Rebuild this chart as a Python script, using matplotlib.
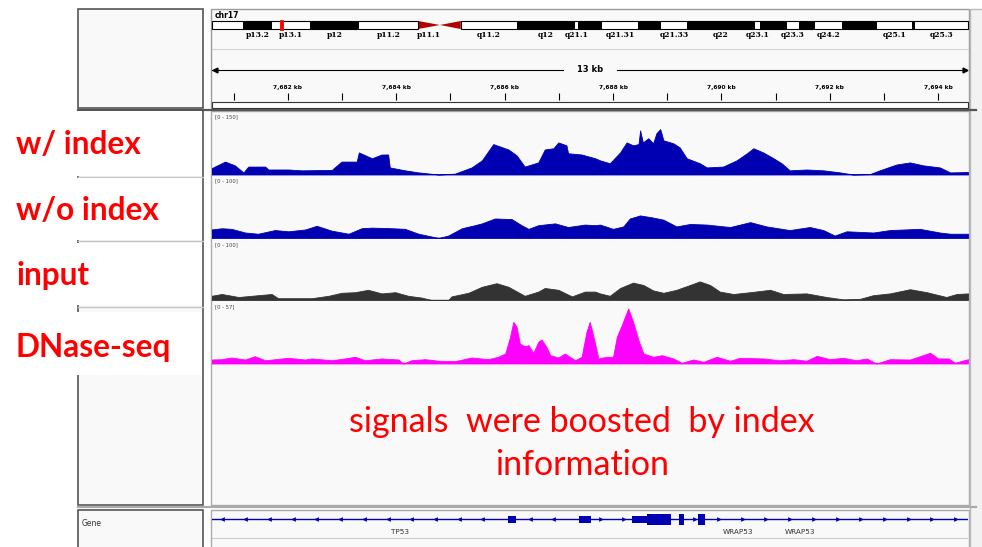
"""IGV-style browser snapshot around TP53 / WRAP53 with four coverage tracks."""
import matplotlib
matplotlib.use("Agg")
import matplotlib.pyplot as plt
from matplotlib.patches import Rectangle, Polygon
import numpy as np

# ---- data -------------------------------------------------------------
CHROM = 'chr17'
CHR_LEN = 83.26          # Mb
REGION = (7680.60, 7694.55)   # kb shown in the data panel

# cytobands (Mb)
band_names = ['p13.3', 'p13.2', 'p13.1', 'p12', 'p11.2', 'p11.1', 'q11.1', 'q11.2',
              'q12', 'q21.1', 'q21.2', 'q21.31', 'q21.32', 'q21.33', 'q22', 'q23.1',
              'q23.2', 'q23.3', 'q24.1', 'q24.2', 'q24.3', 'q25.1', 'q25.2', 'q25.3']
band_start = [0.0, 3.4, 6.6, 10.8, 16.2, 22.7, 25.1, 27.4, 33.6, 40.0, 40.3, 43.0,
              46.9, 49.5, 52.3, 59.8, 60.3, 63.3, 64.7, 66.4, 69.4, 73.2, 77.1, 77.4]
band_end = band_start[1:] + [CHR_LEN]
band_stain = ['gneg', 'gpos', 'gneg', 'gpos', 'gneg', 'acen', 'acen', 'gneg',
              'gpos', 'gneg', 'gpos', 'gneg', 'gpos', 'gneg', 'gpos', 'gneg',
              'gpos', 'gneg', 'gpos', 'gneg', 'gpos', 'gneg', 'gpos', 'gneg']
band_shown = ['p13.2', 'p13.1', 'p12', 'p11.2', 'p11.1', 'q11.2', 'q12', 'q21.1',
              'q21.31', 'q21.33', 'q22', 'q23.1', 'q23.3', 'q24.2', 'q25.1', 'q25.3']

# track 1: w/ index  (range 0-150)
t1_pos = [7680.59, 7680.84, 7681.02, 7681.18, 7681.27, 7681.58, 7681.64, 7682.01, 7682.25,
          7682.81, 7682.99, 7683.27, 7683.31, 7683.55, 7683.73, 7683.85, 7683.88, 7684.16,
          7684.41, 7684.78, 7685.08, 7685.39, 7685.58, 7685.79, 7686.07, 7686.22, 7686.37,
          7686.62, 7686.74, 7686.90, 7686.99, 7687.14, 7687.17, 7687.42, 7687.67, 7687.76,
          7687.94, 7688.13, 7688.25, 7688.37, 7688.47, 7688.50, 7688.55, 7688.65, 7688.74,
          7688.80, 7688.87, 7688.93, 7689.11, 7689.23, 7689.36, 7689.60, 7689.73, 7690.03,
          7690.28, 7690.47, 7690.59, 7690.77, 7690.96, 7691.11, 7691.26, 7691.57, 7691.88,
          7692.19, 7692.43, 7692.74, 7692.92, 7693.23, 7693.48, 7693.72, 7694.03, 7694.22,
          7694.55]
t1_val = [15, 31, 22, 5, 19, 19, 12, 12, 10,
          11, 31, 31, 53, 39, 48, 48, 17, 10,
          5, 0, 2, 17, 34, 73, 60, 46, 19,
          29, 60, 63, 77, 70, 51, 48, 39, 34,
          27, 53, 77, 70, 73, 106, 77, 87, 75,
          99, 109, 82, 75, 65, 39, 27, 17, 19,
          34, 51, 63, 53, 39, 27, 10, 12, 10,
          5, 0, 1, 10, 24, 29, 22, 17, 5,
          6]

# track 2: w/o index (range 0-100)
t2_pos = [7680.59, 7680.78, 7680.96, 7681.21, 7681.45, 7681.76, 7682.01, 7682.32, 7682.53,
          7682.81, 7683.12, 7683.36, 7683.55, 7683.92, 7684.16, 7684.41, 7684.78, 7684.96,
          7685.21, 7685.45, 7685.58, 7685.82, 7686.13, 7686.31, 7686.44, 7686.62, 7686.93,
          7687.17, 7687.48, 7687.67, 7687.76, 7688.00, 7688.19, 7688.31, 7688.50, 7688.71,
          7688.93, 7689.17, 7689.42, 7689.73, 7690.16, 7690.53, 7690.83, 7691.26, 7691.63,
          7691.88, 7692.09, 7692.31, 7692.80, 7693.11, 7693.66, 7694.03, 7694.22, 7694.55]
t2_val = [14, 16, 15, 9, 7, 13, 11, 14, 20,
          12, 7, 16, 17, 16, 15, 7, 0, 4,
          16, 21, 24, 32, 31, 21, 15, 21, 24,
          18, 22, 21, 22, 15, 19, 32, 37, 34,
          30, 19, 23, 22, 18, 26, 19, 13, 18,
          13, 4, 11, 9, 13, 15, 9, 7, 7]

# track 3: input (range 0-100)
t3_pos = [7680.59, 7680.78, 7681.09, 7681.33, 7681.70, 7681.82, 7682.13, 7682.44, 7682.75,
          7682.99, 7683.24, 7683.48, 7683.73, 7683.98, 7684.22, 7684.47, 7684.65, 7684.96,
          7685.02, 7685.33, 7685.58, 7685.85, 7686.07, 7686.37, 7686.62, 7686.74, 7686.99,
          7687.24, 7687.48, 7687.67, 7687.76, 7687.94, 7688.13, 7688.37, 7688.56, 7688.74,
          7688.93, 7689.17, 7689.42, 7689.60, 7689.79, 7689.97, 7690.22, 7690.53, 7690.90,
          7691.14, 7691.57, 7691.94, 7692.25, 7692.56, 7692.80, 7693.11, 7693.48, 7693.79,
          7694.15, 7694.34, 7694.55]
t3_val = [7, 10, 5, 7, 10, 3, 3, 3, 7,
          12, 13, 17, 11, 13, 7, 4, 0, 0,
          6, 12, 22, 28, 22, 7, 14, 20, 17,
          6, 14, 14, 11, 7, 20, 29, 25, 16,
          12, 17, 25, 31, 25, 14, 10, 13, 17,
          10, 11, 5, 1, 2, 8, 11, 18, 13,
          5, 10, 11]

# track 4: DNase-seq (range 0-57)
t4_pos = [7680.59, 7680.78, 7680.96, 7681.21, 7681.39, 7681.58, 7682.01, 7682.32, 7682.44,
          7682.81, 7683.05, 7683.24, 7683.42, 7683.73, 7684.04, 7684.13, 7684.28, 7684.53,
          7684.78, 7685.08, 7685.39, 7685.70, 7685.88, 7686.01, 7686.10, 7686.16, 7686.22,
          7686.28, 7686.37, 7686.44, 7686.53, 7686.62, 7686.68, 7686.77, 7686.84, 7686.99,
          7687.11, 7687.30, 7687.42, 7687.51, 7687.57, 7687.64, 7687.73, 7687.88, 7688.00,
          7688.07, 7688.16, 7688.28, 7688.37, 7688.47, 7688.56, 7688.74, 7688.90, 7689.11,
          7689.27, 7689.48, 7689.67, 7689.91, 7690.16, 7690.34, 7690.77, 7691.08, 7691.33,
          7691.57, 7691.76, 7692.00, 7692.25, 7692.49, 7692.68, 7692.86, 7693.11, 7693.48,
          7693.85, 7694.00, 7694.19, 7694.31, 7694.55]
t4_val = [3.8, 4.1, 5.7, 3.8, 6.9, 3.1, 5.4, 3.8, 4.8,
          3.1, 4.8, 6.4, 3.1, 4.8, 3.8, 0, 3.1, 4.1,
          2.6, 2.2, 5.7, 4.1, 6.4, 9.5, 25.4, 39.6, 34.9,
          19.0, 16.4, 17.4, 10.2, 20.6, 22.8, 15.9, 7.9, 5.7,
          9.5, 3.1, 6.4, 30.1, 39.6, 25.4, 4.8, 6.4, 6.4,
          25.4, 36.4, 52.3, 39.6, 22.1, 9.5, 6.4, 7.9, 4.8,
          0.7, 3.8, 1.6, 6.4, 2.6, 5.4, 4.8, 3.1, 4.1,
          2.6, 7.3, 4.1, 5.4, 3.1, 4.8, 0, 4.1, 3.8,
          10.2, 4.8, 4.8, 0.7, 4.1]

tracks = [('w/ index', t1_pos, t1_val, 150, '#0000b2', '#9a9ae6'),
          ('w/o index', t2_pos, t2_val, 100, '#0000b2', '#9a9ae6'),
          ('input', t3_pos, t3_val, 100, '#333333', '#c8c8c8'),
          ('DNase-seq', t4_pos, t4_val, 57, '#ff00ff', '#c8c8c8')]

# gene features (kb): start, end, thick?
exon_start = [7686.06, 7687.37, 7688.35, 7688.63, 7689.22, 7689.57]
exon_end = [7686.21, 7687.59, 7688.63, 7689.07, 7689.31, 7689.70]
exon_thick = [False, False, False, True, True, True]
strand_switch = 7687.6
gene_labels = ['TP53', 'WRAP53', 'WRAP53']
gene_label_pos = [7684.07, 7690.30, 7691.45]

annotation = ['signals  were boosted  by index', 'information']

# ---- layout -----------------------------------------------------------
W, H = 982, 547
PANEL = '#f9f9f9'
RED = '#ff0000'
BLUE = '#0000b2'

fig = plt.figure(figsize=(W / 100, H / 100), dpi=100)
bg = fig.add_axes([0, 0, 1, 1])
bg.set_xlim(0, W); bg.set_ylim(H, 0); bg.axis('off')


def px_axes(x0, y0, x1, y1):
    ax = fig.add_axes([x0 / W, 1 - y1 / H, (x1 - x0) / W, (y1 - y0) / H])
    ax.axis('off')
    return ax


def box(x, y, w, h, fc=PANEL, ec='#555555', lw=1.2, z=1):
    bg.add_patch(Rectangle((x, y), w, h, fc=fc, ec=ec, lw=lw, zorder=z))


# panels
box(78, 9, 125, 99)
box(211, 9, 758, 99, ec='#9a9a9a', lw=1)
bg.plot([212, 968], [48.5, 48.5], color='#d4d4d4', lw=0.8, zorder=2)
box(212, 101.5, 756, 6.5, fc='white', ec='#333333', lw=0.8, z=2)
bg.plot([78, 976], [109.5, 109.5], color='#555555', lw=1.6, zorder=3)
box(78, 111, 125, 394)
box(211, 111, 758, 394, ec='#aaaaaa', lw=1)
bg.plot([78, 976], [507, 507], color='#aaaaaa', lw=1.6, zorder=3)
box(78, 510, 125, 45)
box(211, 510, 758, 45, ec='#aaaaaa', lw=1)
box(970, 9, 14, 545, fc='#f2f2f2', ec='#bbbbbb', lw=1)
for yy in (176.5, 240.5, 307):
    bg.plot([78, 203], [yy, yy], color='#c4c4c4', lw=1, zorder=2)

bg.text(215, 15, CHROM, fontsize=5.5, fontweight='bold', va='center', zorder=4)
bg.text(82, 524, 'Gene', fontsize=5.5, color='#333333', va='center', zorder=4)

# ---- ideogram --------------------------------------------------------
ide = px_axes(212, 21, 968, 29)
ide.set_xlim(0, CHR_LEN); ide.set_ylim(0, 1)
for name, s, e, st in zip(band_names, band_start, band_end, band_stain):
    if st == 'acen':
        if name.startswith('p'):
            pts = [(s, 0), (s, 1), (e, 0.5)]
        else:
            pts = [(s, 0.5), (e, 1), (e, 0)]
        ide.add_patch(Polygon(pts, closed=True, fc='#b00000', ec='none'))
    else:
        ide.add_patch(Rectangle((s, 0), e - s, 1, fc='black' if st == 'gpos' else 'white', ec='none'))
    if name in band_shown:
        ide.text((s + e) / 2, -0.72, name, ha='center', va='center', fontsize=5.5,
                 fontweight='bold', family='DejaVu Serif', clip_on=False)
p_end = band_start[band_names.index('p11.1')]
q_start = band_end[band_names.index('q11.1')]
ide.add_patch(Rectangle((0, 0), p_end, 1, fc='none', ec='black', lw=0.8, clip_on=False))
ide.add_patch(Rectangle((q_start, 0), CHR_LEN - q_start, 1, fc='none', ec='black', lw=0.8, clip_on=False))
centre_mb = (REGION[0] + REGION[1]) / 2 / 1000
ide.add_patch(Rectangle((centre_mb - 0.15, -0.15), 0.3, 1.3, fc='red', ec='red', lw=0.6, clip_on=False))

# ---- ruler ------------------------------------------------------------
ru = px_axes(212, 60, 968, 101)
ru.set_xlim(*REGION); ru.set_ylim(101, 60)
ticks = np.arange(np.ceil(REGION[0]), REGION[1])
ru.vlines(ticks, 93, 100, color='black', lw=0.8)
for t in ticks:
    if int(t) % 2 == 0:
        ru.text(t, 87, f'{int(t):,} kb', ha='center', va='center', fontsize=4.2, fontweight='bold')
mid = (REGION[0] + REGION[1]) / 2
span = int(REGION[1] - REGION[0])
ru.text(mid, 70, f'{span} kb', ha='center', va='center', fontsize=6, fontweight='bold')
ru.plot([REGION[0], mid - 0.5], [70, 70], color='black', lw=0.8)
ru.plot([mid + 0.5, REGION[1]], [70, 70], color='black', lw=0.8)
ru.plot([REGION[0] + 0.06], [70], marker='<', ms=3.5, color='black', clip_on=False)
ru.plot([REGION[1] - 0.06], [70], marker='>', ms=3.5, color='black', clip_on=False)

# ---- coverage tracks ---------------------------------------------------
track_px = [(112, 174.5, 116.5), (177, 238, 180.5), (240, 300, 244.5), (303.5, 363.5, 307)]
label_y = [145, 211, 275, 347]
white_boxes = [(111, 176), (178, 240), (242.5, 305), (312, 375)]
for (name, pos, val, ymax, col, base), (top, bottom, ly), yl, wb in zip(
        tracks, track_px, label_y, white_boxes):
    ax = px_axes(212, top, 968, bottom)
    ax.set_xlim(*REGION); ax.set_ylim(0, ymax)
    ax.axhline(0, color=base, lw=1.2, zorder=1)
    ax.fill_between(pos, val, 0, color=col, lw=0.6, edgecolor=col, zorder=2)
    bg.text(215, ly, f'[0 - {ymax}]', fontsize=3.8, color='#444444', va='center', zorder=4)
    bg.add_patch(Rectangle((0, wb[0]), 202, wb[1] - wb[0], fc='white', ec='none', zorder=5))
    bg.text(16, yl, name, fontsize=22.8, fontweight='bold', color=RED, family='Lato',
            va='center', ha='left', zorder=6)

# ---- gene track ---------------------------------------------------------
gx = px_axes(212, 510, 968, 547)
gx.set_xlim(*REGION); gx.set_ylim(37, 0)
gx.plot(REGION, [9.3, 9.3], color=BLUE, lw=1)
chev = np.arange(REGION[0] + 0.18, REGION[1], 0.437)
for c in chev:
    if any(s - 0.05 <= c <= e + 0.05 for s, e in zip(exon_start, exon_end)):
        continue
    gx.plot([c], [9.3], marker='<' if c < strand_switch else '>', ms=3.4, color=BLUE, mew=0)
for s, e, thick in zip(exon_start, exon_end, exon_thick):
    h = 11 if thick else 7
    gx.add_patch(Rectangle((s, 9.3 - h / 2), e - s, h, fc=BLUE, ec='none'))
for lab, p in zip(gene_labels, gene_label_pos):
    gx.text(p, 22, lab, ha='center', va='center', fontsize=5.2, color='#333333')
gx.plot(REGION, [27.5, 27.5], color='#cccccc', lw=0.8)

# ---- annotation -----------------------------------------------------------
for i, line in enumerate(annotation):
    bg.text(582, 422 + 43 * i, line, fontsize=24.5, color=RED, family='Lato',
            ha='center', va='center', zorder=6)

plt.savefig('out.png', dpi=100)
print('saved out.png')
